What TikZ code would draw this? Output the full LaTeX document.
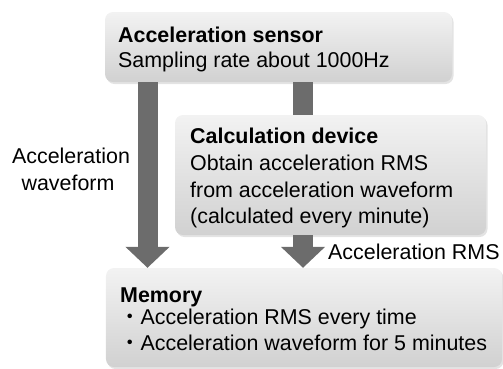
\documentclass[tikz,border=0pt]{standalone}
\usepackage{fontspec}
\setmainfont{Liberation Sans}
\newfontfamily\cjk{Noto Sans CJK JP}
\usetikzlibrary{arrows.meta,shadows}
\definecolor{arrowgray}{RGB}{108,108,108}
\begin{document}
\begin{tikzpicture}[x=1bp,y=-1bp,
  box/.style={draw=none, rounded corners=8bp, top color=white!95!black, bottom color=white!82!black,
    drop shadow={opacity=0.22, shadow xshift=1.5bp, shadow yshift=-2bp}, inner sep=0pt},
  txt/.style={anchor=base west, inner sep=0pt, font=\fontsize{21.5}{25}\selectfont},
  lbl/.style={anchor=base, inner sep=0pt, font=\fontsize{21.5}{25}\selectfont},
  bar/.style={draw=arrowgray, line width=20bp},
  bigarrow/.style={draw=arrowgray, fill=arrowgray, line width=20bp, -{Triangle[width=43bp,length=21bp]}}]
\useasboundingbox (0,0) rectangle (503,368);
% boxes
\node[box, minimum width=347bp, minimum height=70bp] (sensor) at (278.5,47) {};
\node[box, minimum width=311bp, minimum height=120bp] (calc) at (330.5,175) {};
\node[box, minimum width=396bp, minimum height=99bp] (memory) at (304,317.5) {};
% connectors
\coordinate (la) at (147.5,0);
\coordinate (ra) at (303,0);
\draw[bar] (sensor.south -| ra) -- (calc.north -| ra);
\draw[bigarrow] (sensor.south -| la) -- (memory.north -| la);
\draw[bigarrow] (calc.south -| ra) -- (memory.north -| ra);
% texts
\node[txt, font=\fontsize{21.5}{25}\selectfont\bfseries] (t1) at (118,42) {Acceleration sensor};
\node[txt] (t2) at (118,67) {Sampling rate about 1000Hz};
\node[txt, font=\fontsize{21.5}{25}\selectfont\bfseries] (c1) at (190,143) {Calculation device};
\node[txt] (c2) at (190,170) {Obtain acceleration RMS};
\node[txt] (c3) at (190,197) {from acceleration waveform};
\node[txt] (c4) at (190,223) {(calculated every minute)};
\node[lbl] (w1) at (71,163) {Acceleration};
\node[lbl] (w2) at (68,190) {waveform};
\node[txt] (r1) at (328,259) {Acceleration RMS};
\node[txt, font=\fontsize{21.5}{25}\selectfont\bfseries] (m1) at (120,302) {Memory};
\node[txt] (m2) at (119,324) {{\cjk ・}Acceleration RMS every time};
\node[txt] (m3) at (119,350) {{\cjk ・}Acceleration waveform for 5 minutes};
\end{tikzpicture}
\end{document}
